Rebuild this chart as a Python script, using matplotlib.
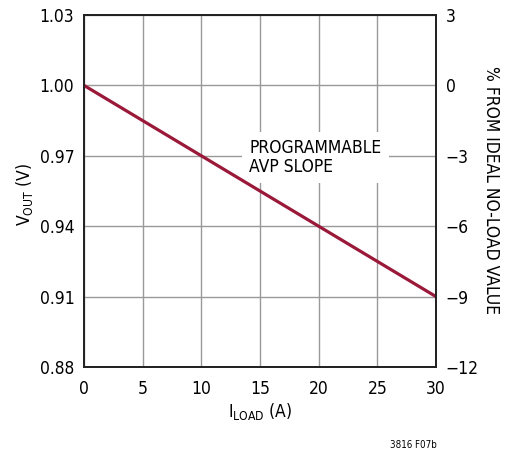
import matplotlib
matplotlib.use("Agg")
import matplotlib.pyplot as plt
from matplotlib import font_manager

# look for a condensed face (the reference uses a narrow sans)
fam, stretch = 'Liberation Sans', 'normal'
for f in font_manager.fontManager.ttflist:
    tag = (f.name + f.fname).lower()
    if ('narrow' in tag or 'condensed' in tag) and f.weight in (400, 'normal', 'regular') \
            and f.style == 'normal' and 'mono' not in tag and 'serif' not in f.name.lower():
        fam, stretch = f.name, f.stretch
        break
plt.rcParams['font.family'] = [fam, 'DejaVu Sans']
plt.rcParams['font.stretch'] = stretch
plt.rcParams['mathtext.fontset'] = 'custom'
plt.rcParams['mathtext.rm'] = fam

# data
i_load = [0, 30]
v_out = [1.00, 0.91]
x_ticks = [0, 5, 10, 15, 20, 25, 30]
y_ticks = [0.88, 0.91, 0.94, 0.97, 1.00, 1.03]
y_tick_labels = ['0.88', '0.91', '0.94', '0.97', '1.00', '1.03']
pct_ticks = [-12, -9, -6, -3, 0, 3]
pct_labels = ['\u221212', '\u22129', '\u22126', '\u22123', '0', '3']

fig = plt.figure(figsize=(5.06, 4.51), dpi=100)
ax = fig.add_axes([84 / 506, 1 - 367 / 451, 352 / 506, 352 / 451])

ax.plot(i_load, v_out, color='#9a1838', linewidth=2.3, solid_capstyle='butt', zorder=4)

ax.set_xlim(0, 30)
ax.set_ylim(0.88, 1.03)
ax.set_xticks(x_ticks)
ax.set_yticks(y_ticks)
ax.set_yticklabels(y_tick_labels)
ax.grid(True, color='#999999', linewidth=1.0)
ax.set_axisbelow(True)
ax.tick_params(length=0, labelsize=12.5, pad=7)
ax.tick_params(axis='x', pad=9)
for s in ax.spines.values():
    s.set_linewidth(1.3)
    s.set_color('#222222')

ax2 = ax.twinx()
ax2.set_ylim(-12, 3)
ax2.set_yticks(pct_ticks)
ax2.set_yticklabels(pct_labels)
ax2.tick_params(length=0, labelsize=12.5, pad=7)
for s in ax2.spines.values():
    s.set_linewidth(1.3)
    s.set_color('#222222')
ax2.set_ylabel('% FROM IDEAL NO-LOAD VALUE', rotation=-90, fontsize=12.5,
               va='center', ha='center')
ax2.yaxis.set_label_coords(1.155, 0.503)

ax.set_xlabel('I$_{\\mathregular{LOAD}}$ (A)', fontsize=12.5)
ax.xaxis.set_label_coords(0.5, -0.098)
ax.set_ylabel('V$_{\\mathregular{OUT}}$ (V)', fontsize=12.5, va='center')
ax.yaxis.set_label_coords(-0.168, 0.49)

ax.text(14.1, 0.9693, 'PROGRAMMABLE\nAVP SLOPE', fontsize=12.5, ha='left', va='center',
        linespacing=1.1, zorder=3,
        bbox=dict(facecolor='white', edgecolor='none', pad=5))

fig.text(413 / 506, 1 - 445 / 451, '3816 F07b', fontsize=7, ha='center', va='center')

fig.savefig('out.png', dpi=100)
